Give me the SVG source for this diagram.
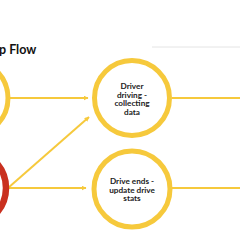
<svg xmlns="http://www.w3.org/2000/svg" width="240" height="240" viewBox="0 0 240 240">
<style>
.node{fill:none;stroke:#F6C93C;stroke-width:5}
.red{fill:none;stroke:#C9301F;stroke-width:6.5}
.conn{stroke:#F6C93C;stroke-width:2;fill:none}
.lbl{font-family:Lato,"Open Sans",sans-serif;font-size:8.2px;font-weight:700;fill:#222;text-anchor:middle}
.title{font-family:Lato,"Open Sans",sans-serif;font-size:12.5px;font-weight:700;fill:#111}
</style>
<defs>
<marker id="ah" viewBox="0 0 10 10" refX="9" refY="5" markerWidth="5" markerHeight="5" markerUnits="userSpaceOnUse" orient="auto">
<path d="M0,0 L10,5 L0,10 Z" fill="#F6C93C"/>
</marker>
</defs>
<rect width="240" height="240" fill="#fff"/>
<line x1="152" y1="47" x2="240" y2="47" stroke="#e4e4e4" stroke-width="1"/>
<text class="title" x="-1" y="54">p Flow</text>
<g id="connectors">
<line class="conn" x1="10" y1="98" x2="88" y2="98" marker-end="url(#ah)"/>
<line class="conn" x1="8" y1="188" x2="86" y2="188" marker-end="url(#ah)"/>
<line class="conn" x1="8" y1="188" x2="89" y2="117" marker-end="url(#ah)"/>
<line class="conn" x1="172" y1="98" x2="240" y2="98"/>
<line class="conn" x1="172" y1="188" x2="240" y2="188"/>
</g>
<g id="node-start">
<circle class="node" cx="-30" cy="98" r="38"/>
</g>
<g id="node-red">
<circle class="red" cx="-32" cy="188" r="38"/>
</g>
<g id="node-driving">
<circle class="node" cx="132" cy="98" r="37.5"/>
<text class="lbl" x="132" y="89">Driver</text>
<text class="lbl" x="132" y="97.5">driving -</text>
<text class="lbl" x="132" y="106">collecting</text>
<text class="lbl" x="132" y="114.5">data</text>
</g>
<g id="node-ends">
<circle class="node" cx="132" cy="189" r="38"/>
<text class="lbl" x="132" y="184">Drive ends -</text>
<text class="lbl" x="132" y="192.5">update drive</text>
<text class="lbl" x="132" y="201">stats</text>
</g>
</svg>
